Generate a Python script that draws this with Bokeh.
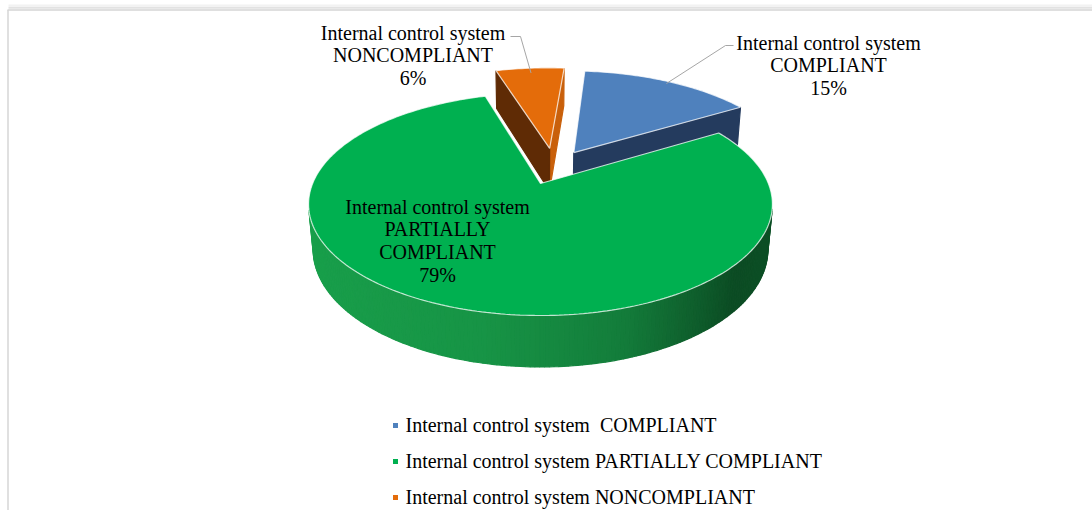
import numpy as np
from bokeh.plotting import figure
from bokeh.models import Range1d
from bokeh.embed import file_html
from bokeh.resources import INLINE
from bokeh.core.properties import value

# ---------------- data ----------------
categories = ["Internal control system  COMPLIANT",
              "Internal control system PARTIALLY COMPLIANT",
              "Internal control system NONCOMPLIANT"]
label_lines = [["Internal control system", "COMPLIANT"],
               ["Internal control system", "PARTIALLY", "COMPLIANT"],
               ["Internal control system", "NONCOMPLIANT"]]
percents = [15, 79, 6]

# ---------------- style ----------------
top_colors = ["#4f81bd", "#00b050", "#e46c0a"]
side_colors = ["#2b4a78", "#1aa84f", "#b85a0c"]
start_wall_colors = ["#2a4570", "#0f7a3a", "#5f2b05"]
end_wall_colors = ["#243b5e", "#0f7a3a", "#c9600b"]
explode = [(0.34, 27.0), (0.0, 0.0), (0.35, 7.0)]   # (distance, direction deg)
FIRST_ANGLE = 5.0
FONT = "Liberation Serif"
W, HGT = 1092, 510
TEXT_SHIFT = -7.5

# projection (perspective 3D pie)
CX, CY = 540.0, 183.0
FX, FY = 1096.0, 1162.0
D = 4.81
ALPHA = np.radians(26.4)
SA, CA = np.sin(ALPHA), np.cos(ALPHA)
H = 0.21
cam = np.array([0.0, -D * CA, D * SA])


def proj(u, v, w):
    u = np.asarray(u, float); v = np.asarray(v, float); w = np.asarray(w, float)
    depth = D + v * CA - w * SA
    up = v * SA + w * CA
    return CX + FX * u / depth, CY - FY * up / depth


def hex2rgb(h):
    h = h.lstrip("#")
    return np.array([int(h[i:i + 2], 16) for i in (0, 2, 4)], float)


def rgb2hex(c):
    c = np.clip(np.round(c), 0, 255).astype(int)
    return "#%02x%02x%02x" % tuple(c)


def side_shade(base, nu):
    f = np.interp(nu, [-1.0, -0.2, 0.3, 0.75, 1.0], [0.95, 0.88, 0.74, 0.45, 0.48])
    return rgb2hex(hex2rgb(base) * f)


p = figure(width=W, height=HGT, x_range=Range1d(0, W), y_range=Range1d(HGT, 0),
           x_axis_type=None, y_axis_type=None, toolbar_location=None,
           output_backend="svg", min_border=0)
p.outline_line_color = None
p.grid.visible = False
p.background_fill_color = "white"
p.border_fill_color = "white"

# chart frame (left and top edge with soft shadow)
p.line([8, W], [5, 5], line_color="#f2f2f2", line_width=2)
p.line([8, W], [7.2, 7.2], line_color="#e2e2e2", line_width=2)
p.line([7, W], [9.5, 9.5], line_color="#d4d4d4", line_width=1.5)
p.line([7.5, 7.5], [9.5, HGT], line_color="#d6d6d6", line_width=1.5)

# ---------------- build slices ----------------
cum = np.concatenate([[0], np.cumsum(percents)])
slices = []
for i, pct in enumerate(percents):
    a0 = FIRST_ANGLE + 360.0 * cum[i] / 100.0
    a1 = FIRST_ANGLE + 360.0 * cum[i + 1] / 100.0
    dist, ddir = explode[i]
    ou, ov = dist * np.sin(np.radians(ddir)), dist * np.cos(np.radians(ddir))
    slices.append((i, a0, a1, ou, ov))

# back-to-front order by offset depth
order = sorted(slices, key=lambda s: -s[4])

for (i, a0, a1, ou, ov) in order:
    faces = []
    n = max(3, int((a1 - a0) / 1.0) + 1)
    phis = np.radians(np.linspace(a0, a1, n))
    # outer curved wall
    for k in range(n - 1):
        pm = 0.5 * (phis[k] + phis[k + 1])
        nrm = np.array([np.sin(pm), np.cos(pm), 0.0])
        P = np.array([ou + np.sin(pm), ov + np.cos(pm), -H / 2])
        if np.dot(cam - P, nrm) > 0:
            us = ou + np.sin([phis[k], phis[k + 1], phis[k + 1], phis[k]])
            vs = ov + np.cos([phis[k], phis[k + 1], phis[k + 1], phis[k]])
            ws = np.array([0, 0, -H, -H])
            xs, ys = proj(us, vs, ws)
            depth = D + np.mean(vs) * CA
            col = side_shade(side_colors[i], np.sin(pm))
            faces.append((depth, list(xs), list(ys), col))
    # radial walls
    for ang, sign, col in ((a0, -1, start_wall_colors[i]), (a1, 1, end_wall_colors[i])):
        r = np.radians(ang)
        nang = r + sign * np.pi / 2
        nrm = np.array([np.sin(nang), np.cos(nang), 0.0])
        P = np.array([ou + 0.5 * np.sin(r), ov + 0.5 * np.cos(r), -H / 2])
        if np.dot(cam - P, nrm) > 0:
            us = np.array([ou, ou + np.sin(r), ou + np.sin(r), ou])
            vs = np.array([ov, ov + np.cos(r), ov + np.cos(r), ov])
            ws = np.array([0, 0, -H, -H])
            xs, ys = proj(us, vs, ws)
            depth = D + np.mean(vs) * CA
            faces.append((depth, list(xs), list(ys), col))
    faces.sort(key=lambda f: -f[0])
    if faces:
        p.patches([f[1] for f in faces], [f[2] for f in faces],
                  fill_color=[f[3] for f in faces], line_color=[f[3] for f in faces],
                  line_width=1.2)
    # top face
    us = np.concatenate([[ou], ou + np.sin(phis)])
    vs = np.concatenate([[ov], ov + np.cos(phis)])
    xs, ys = proj(us, vs, np.zeros_like(us))
    p.patch(list(xs), list(ys), fill_color=top_colors[i], line_color="white",
            line_alpha=0.75, line_width=1.2)

# ---------------- data labels ----------------
label_pos = [(828.0, 49.5), (437.0, 213.5), (412.5, 39.5)]
LINE_GAP = 22.8
lx, ly, lt = [], [], []
for i, pct in enumerate(percents):
    lines = label_lines[i] + ["%d%%" % pct]
    x0, y0 = label_pos[i]
    for j, t in enumerate(lines):
        lx.append(x0); ly.append(y0 + j * LINE_GAP + TEXT_SHIFT); lt.append(t)
p.text(lx, ly, text=lt, text_font=value(FONT), text_font_size="20px",
       text_align="center", text_baseline="alphabetic", text_color="#000000")


# leader lines to slices
def anchor(i, r):
    (_, a0, a1, ou, ov) = slices[i]
    m = np.radians(0.5 * (a0 + a1))
    x, y = proj(ou + r * np.sin(m), ov + r * np.cos(m), 0.0)
    return float(x), float(y)


ax, ay = anchor(0, 0.97)
p.line([733, 725, ax], [45, 45, ay], line_color="#a6a6a6", line_width=1)
ax, ay = anchor(2, 0.93)
p.line([510, 520, ax], [36, 36, ay], line_color="#a6a6a6", line_width=1)

# ---------------- legend ----------------
leg_base = [431.5, 467.5, 503.5]
leg_text = [c.replace("  ", "\u00a0 ") for c in categories]
p.rect([395] * 3, [b - 6.5 for b in leg_base], width=5, height=5,
       fill_color=top_colors, line_color=None)
p.text([405] * 3, [b + TEXT_SHIFT for b in leg_base], text=leg_text,
       text_font=value(FONT), text_font_size="20px", text_align="left",
       text_baseline="alphabetic", text_color="#000000")

open("out.html", "w").write(file_html(p, INLINE))
